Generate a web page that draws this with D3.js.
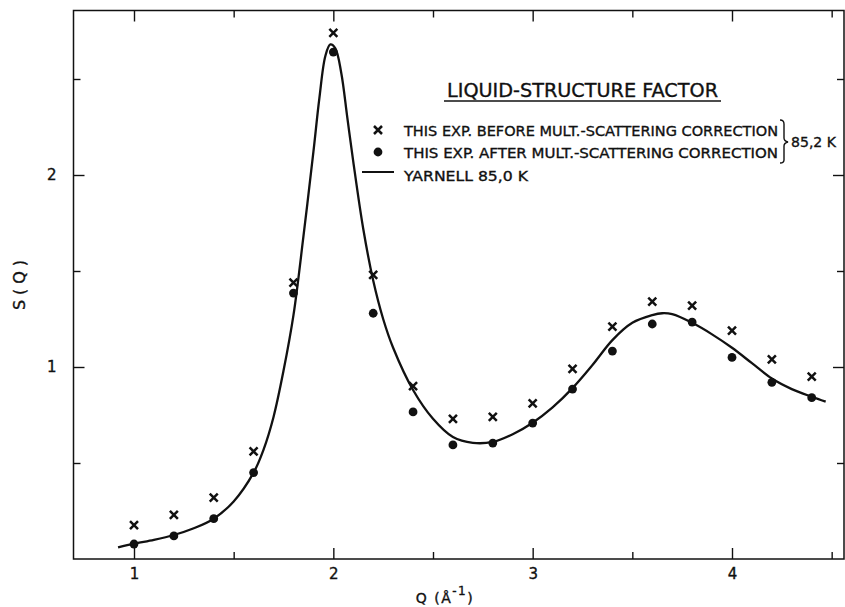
<!DOCTYPE html>
<html><head><meta charset="utf-8">
<script src="https://cdn.jsdelivr.net/npm/d3@7"></script>
<style>
html,body{margin:0;padding:0;background:#fff;}
svg{display:block;}
text{font-family:"DejaVu Sans",sans-serif;fill:#111;stroke:#111;stroke-width:0.35px;}
</style></head>
<body>
<script>
// ---- data ----
const qPoints = [1.0,1.2,1.4,1.6,1.8,2.0,2.2,2.4,2.6,2.8,3.0,3.2,3.4,3.6,3.8,4.0,4.2,4.4];
const beforeCorr = [0.177,0.23,0.32,0.56,1.44,2.74,1.48,0.90,0.73,0.74,0.81,0.99,1.21,1.34,1.32,1.19,1.04,0.95];
const afterCorr  = [0.078,0.12,0.21,0.45,1.385,2.64,1.28,0.766,0.594,0.604,0.708,0.885,1.083,1.224,1.234,1.05,0.92,0.84];
const yarnellQ = [0.92,1.0,1.1,1.2,1.3,1.4,1.5,1.6,1.65,1.7,1.75,1.8,1.85,1.9,1.93,1.96,1.985,2.01,2.04,2.07,2.1,2.15,2.2,2.25,2.3,2.4,2.5,2.6,2.7,2.8,2.9,3.0,3.1,3.2,3.3,3.4,3.5,3.6,3.65,3.7,3.8,3.9,4.0,4.1,4.2,4.3,4.4,4.47];
const yarnellS = [0.06,0.08,0.10,0.125,0.16,0.21,0.30,0.45,0.57,0.74,0.98,1.27,1.68,2.12,2.40,2.62,2.68,2.66,2.53,2.30,2.07,1.72,1.45,1.25,1.10,0.88,0.73,0.635,0.605,0.61,0.65,0.71,0.79,0.89,1.01,1.14,1.23,1.27,1.28,1.275,1.23,1.17,1.10,1.02,0.94,0.885,0.845,0.82];
const xTicks = [1,2,3,4];
const xMinor = [1.5,2.5,3.5,4.5];
const yTicks = [1,2];
const yMinor = [0.5,1.5,2.5];
const titleText = "LIQUID-STRUCTURE FACTOR";
const legendLabels = ["THIS EXP. BEFORE MULT.-SCATTERING CORRECTION","THIS EXP. AFTER MULT.-SCATTERING CORRECTION","YARNELL  85,0 K"];
const braceLabel = "85,2 K";

// ---- layout ----
const W = 845, H = 607;
const pL = 73.5, pR = 844, pT = 10.5, pB = 559;
const x = d3.scaleLinear().domain([1,4]).range([134,732]);
x.domain([x.invert(pL), x.invert(pR)]).range([pL,pR]);
const y = d3.scaleLinear().domain([0,2]).range([559,175]);
y.domain([0, y.invert(pT)]).range([pB, pT]);

const svg = d3.select("body").append("svg").attr("width",W).attr("height",H);
const ink = "#111";

// frame
svg.append("rect").attr("x",pL).attr("y",pT).attr("width",pR-pL).attr("height",pB-pT)
  .attr("fill","none").attr("stroke",ink).attr("stroke-width",1.5);

// axes with inward ticks
function tickAxis(gen, tr, vals, len){
  const g = svg.append("g").attr("transform",tr).call(gen.tickValues(vals).tickSize(len).tickFormat(""));
  g.select(".domain").remove();
  g.selectAll("line").attr("stroke",ink).attr("stroke-width",1.4);
  return g;
}
tickAxis(d3.axisTop(x), `translate(0,${pB})`, xTicks, 11);
tickAxis(d3.axisTop(x), `translate(0,${pB})`, xMinor, 7);
tickAxis(d3.axisBottom(x), `translate(0,${pT})`, xTicks, 11);
tickAxis(d3.axisBottom(x), `translate(0,${pT})`, xMinor, 7);
tickAxis(d3.axisRight(y), `translate(${pL},0)`, yTicks, 11);
tickAxis(d3.axisRight(y), `translate(${pL},0)`, yMinor, 7);
tickAxis(d3.axisLeft(y), `translate(${pR},0)`, yTicks, 11);
tickAxis(d3.axisLeft(y), `translate(${pR},0)`, yMinor, 7);

// tick labels
const xl = svg.append("g").attr("transform",`translate(0,${pB})`)
  .call(d3.axisBottom(x).tickValues(xTicks).tickSize(0).tickPadding(9).tickFormat(d3.format("d")));
xl.select(".domain").remove();
xl.selectAll("text").style("font-family","DejaVu Sans").style("font-size","15px").attr("fill",ink);
const yl = svg.append("g").attr("transform",`translate(${pL},0)`)
  .call(d3.axisLeft(y).tickValues(yTicks).tickSize(0).tickPadding(17).tickFormat(d3.format("d")));
yl.select(".domain").remove();
yl.selectAll("text").style("font-family","DejaVu Sans").style("font-size","15px").attr("fill",ink);

// axis titles
const xt = svg.append("text").attr("x",445).attr("y",603).attr("text-anchor","middle").style("font-size","14px").attr("letter-spacing","1.5");
xt.append("tspan").text("Q (Å");
xt.append("tspan").attr("dy",-8).style("font-size","12px").text("-1");
xt.append("tspan").attr("dy",8).text(")");
svg.append("text").attr("transform",`translate(25,285) rotate(-90)`).attr("text-anchor","middle")
  .style("font-size","16px").attr("textLength",50).attr("lengthAdjust","spacing").text("S(Q)");

// curve
const line = d3.line().x(d=>x(d[0])).y(d=>y(d[1])).curve(d3.curveCatmullRom.alpha(0.5));
svg.append("path").datum(yarnellQ.map((q,i)=>[q,yarnellS[i]]))
  .attr("d",line).attr("fill","none").attr("stroke",ink).attr("stroke-width",2.3);

// markers
const cs = 4;
function cross(g, cx, cy){
  g.append("path").attr("d",`M${cx-cs},${cy-cs}L${cx+cs},${cy+cs}M${cx-cs},${cy+cs}L${cx+cs},${cy-cs}`)
   .attr("stroke",ink).attr("stroke-width",2.5).attr("fill","none");
}
const mk = svg.append("g");
qPoints.forEach((q,i)=>cross(mk, x(q), y(beforeCorr[i])));
mk.selectAll("circle").data(qPoints).join("circle")
  .attr("cx",d=>x(d)).attr("cy",(d,i)=>y(afterCorr[i])).attr("r",4.4).attr("fill",ink);

// title + legend
svg.append("text").attr("x",447).attr("y",97).attr("textLength",271).attr("lengthAdjust","spacingAndGlyphs")
  .style("font-size","19px").text(titleText);
svg.append("line").attr("x1",444).attr("x2",721).attr("y1",101).attr("y2",101).attr("stroke",ink).attr("stroke-width",1.7);

const rowY = [131,153,176];
const lg = svg.append("g");
cross(lg, 378, rowY[0]-1);
lg.append("circle").attr("cx",378).attr("cy",rowY[1]-1).attr("r",4.4).attr("fill",ink);
lg.append("line").attr("x1",362).attr("x2",394).attr("y1",rowY[2]-4).attr("y2",rowY[2]-4).attr("stroke",ink).attr("stroke-width",2);
const lens = [374,374,124];
legendLabels.forEach((t,i)=>{
  lg.append("text").attr("x",404).attr("y",rowY[i]+5).attr("textLength",lens[i]).attr("lengthAdjust","spacingAndGlyphs")
    .style("font-size","14px").text(t);
});
// brace
lg.append("path").attr("d","M780,120 Q784,120 784,124 L784,138 Q784,141 788,142 Q784,143 784,146 L784,160 Q784,163 780,163")
  .attr("fill","none").attr("stroke",ink).attr("stroke-width",1.4);
lg.append("text").attr("x",791).attr("y",147).attr("textLength",45).attr("lengthAdjust","spacingAndGlyphs")
  .style("font-size","14px").text(braceLabel);
</script>
</body></html>
